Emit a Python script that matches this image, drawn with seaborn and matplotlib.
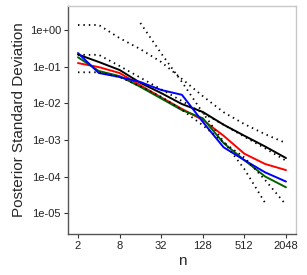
import numpy as np
import pandas as pd
import matplotlib
matplotlib.use("Agg")
import matplotlib.pyplot as plt
import seaborn as sns

# sample sizes
n = [2, 4, 8, 16, 32, 64, 128, 256, 512, 1024, 2048]

# posterior sd for the four methods
sd_black = [0.214, 0.134, 0.081, 0.036, 0.019, 0.0095, 0.0058, 0.0026, 0.0013, 0.00066, 0.00032]
sd_red = [0.125, 0.097, 0.067, 0.031, 0.0145, 0.007, 0.0035, 0.0013, 0.00042, 0.00022, 0.00015]
sd_green = [0.18, 0.076, 0.055, 0.028, 0.0135, 0.0065, 0.0039, 0.00082, 0.00028, 0.0001, 0.000051]
sd_blue = [0.235, 0.067, 0.052, 0.038, 0.023, 0.017, 0.0031, 0.00063, 0.00028, 0.00013, 0.000073]

# dotted reference curves
ref1 = [1.37, 1.37, 0.60, 0.30, 0.134, 0.046, 0.0157, 0.0057, 0.0027, 0.00143, 0.00082]
ref2 = [0.21, 0.21, 0.104, 0.050, 0.024, 0.0115, 0.0054, 0.0026, 0.00122, 0.00059, 0.00027]
ref3 = [0.07, 0.07, 0.052, 0.029, 0.015, 0.0066, 0.0025, 0.00086, 0.00033, 0.00008, 0.000017]
n_ref4 = [16, 32, 64, 128, 256, 512, 1024]
ref4 = [1.55, 0.23, 0.038, 0.0055, 0.0009, 0.00016, 0.000019]

y_ticks = [1, 1e-1, 1e-2, 1e-3, 1e-4, 1e-5]
y_labels = ["1e+00", "1e-01", "1e-02", "1e-03", "1e-04", "1e-05"]
x_ticks = [2, 8, 32, 128, 512, 2048]

sns.set_style("white")
plt.rcParams["font.family"] = ["Liberation Sans", "DejaVu Sans"]

solid = pd.DataFrame({
    "n": n * 4,
    "sd": sd_black + sd_red + sd_green + sd_blue,
    "method": ["black"] * 11 + ["red"] * 11 + ["green"] * 11 + ["blue"] * 11,
})
dotted = pd.DataFrame({
    "n": n * 3 + n_ref4,
    "sd": ref1 + ref2 + ref3 + ref4,
    "curve": ["r1"] * 11 + ["r2"] * 11 + ["r3"] * 11 + ["r4"] * 7,
})

fig = plt.figure(figsize=(3.07, 2.75), dpi=100)
ax = fig.add_axes([0.2215, 0.149, 0.7425, 0.829])

sns.lineplot(data=solid, x="n", y="sd", hue="method",
             palette={"black": "black", "red": "#ff0000", "green": "#006400", "blue": "#0000ff"},
             lw=1.4, legend=False, ax=ax)
sns.lineplot(data=dotted, x="n", y="sd", units="curve", estimator=None,
             color="black", lw=1.3, linestyle=(0, (0.8, 2.2)), ax=ax)

ax.set_xscale("log", base=2)
ax.set_yscale("log")
ax.set_xlim(2 ** 0.52, 2 ** 11.48)
ax.set_ylim(2.7e-6, 4.5)
ax.set_xticks(x_ticks, [str(v) for v in x_ticks])
ax.set_yticks(y_ticks, y_labels)
ax.minorticks_off()
ax.tick_params(axis="both", length=3, width=0.8, color="#333333", labelsize=8,
               pad=2, labelcolor="#222222", direction="out")
ax.tick_params(axis="both", which="both", bottom=True, left=True)

for side in ["left", "bottom"]:
    ax.spines[side].set_color("#555555")
    ax.spines[side].set_linewidth(1.0)
for side in ["top", "right"]:
    ax.spines[side].set_color("#c8c8c8")
    ax.spines[side].set_linewidth(1.0)

ax.set_xlabel("n", fontsize=11, labelpad=2)
ax.set_ylabel("Posterior Standard Deviation", fontsize=11, labelpad=3)

fig.savefig("out.png", dpi=100)
